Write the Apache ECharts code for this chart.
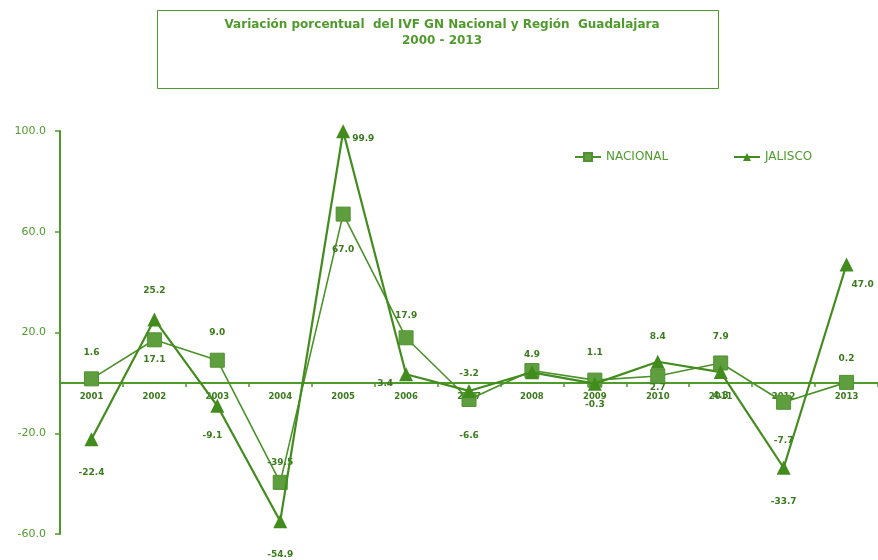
<!DOCTYPE html>
<html>
<head>
<meta charset="utf-8">
<script src="https://cdn.jsdelivr.net/npm/echarts@6/dist/echarts.min.js"></script>
<style>
  html, body { margin: 0; padding: 0; background: #ffffff; }
  #chart { width: 878px; height: 560px; }
</style>
</head>
<body>
<div id="chart"></div>
<script>
// Annual percentage change, 2001-2013
const years = ['2001', '2002', '2003', '2004', '2005', '2006', '2007', '2008', '2009', '2010', '2011', '2012', '2013'];
const nacional = [1.6, 17.1, 9.0, -39.5, 67.0, 17.9, -6.6, 4.9, 1.1, 2.7, 7.9, -7.7, 0.2];
const jalisco = [-22.4, 25.2, -9.1, -54.9, 99.9, 3.4, -3.2, 4.2, -0.3, 8.4, 4.3, -33.7, 47.0];
const yTicks = [-60, -20, 20, 60, 100];

// Where each value label sits relative to its marker
const nacionalLabelPos = ['top', 'bottom', 'top', 'top', 'bottom', 'top', 'bottom', 'top', 'top', 'bottom', 'top', 'bottom', 'top'];
const nacionalLabelDist = [14, 8, 16, 8, 24, 10, 24, 4, 15, 0, 14, 26, 12];
const jaliscoLabelPos = ['bottom', 'top', 'bottom', 'bottom', 'right', 'left', 'top', null, 'bottom', 'top', 'bottom', 'bottom', 'right'];
const jaliscoLabelDist = [22, 17, 18, 22, 2, 2, 6, 0, 10, 14, 12, 22, 2];

const green = '#4f9a2c';
const dark = '#3b7a1e';
const font = 'Liberation Sans, Arial, sans-serif';
const wide = 'DejaVu Sans, Verdana, sans-serif';

function buildPoints(values, pos, dist, extra) {
  return values.map((v, i) => {
    const p = { value: v };
    if (pos[i] === null) {
      p.label = { show: false };
    } else {
      p.label = Object.assign({ position: pos[i], distance: dist[i] }, extra && extra[i] ? extra[i] : {});
    }
    return p;
  });
}

const jaliscoExtra = [];
jaliscoExtra[2] = { offset: [-5, 0] };
jaliscoExtra[4] = { offset: [0, 7] };
jaliscoExtra[5] = { offset: [-4, 9] };
jaliscoExtra[12] = { offset: [-4, 20] };

const chart = echarts.init(document.getElementById('chart'), null, { renderer: 'canvas' });

chart.setOption({
  backgroundColor: '#ffffff',
  animation: false,
  textStyle: { fontFamily: font },
  title: {
    text: 'Variación porcentual  del IVF GN Nacional y Región  Guadalajara\n2000 - 2013',
    left: 437,
    top: 12,
    textAlign: 'center',
    textStyle: { fontSize: 12, fontWeight: 'bold', color: green, lineHeight: 16, fontFamily: wide }
  },
  graphic: [{
    type: 'rect',
    shape: { x: 157.5, y: 10.5, width: 561, height: 78 },
    style: { fill: 'none', stroke: green, lineWidth: 1 },
    z: -1
  }],
  legend: [{
    data: ['NACIONAL'],
    left: 569,
    top: 146,
    itemWidth: 26,
    itemHeight: 10,
    textStyle: { fontSize: 12, color: green, fontFamily: wide }
  }, {
    data: ['JALISCO'],
    left: 728,
    top: 146,
    itemWidth: 26,
    itemHeight: 10,
    textStyle: { fontSize: 12, color: green, fontFamily: wide }
  }],
  grid: { left: 60, right: 0, top: 131, bottom: 26, containLabel: false },
  xAxis: {
    type: 'category',
    data: years,
    boundaryGap: true,
    // the category axis runs along the zero line
    axisLine: { onZero: false, lineStyle: { color: green, width: 2 } },
    offset: -151,
    axisTick: { show: true, length: 4, inside: false, lineStyle: { color: green, width: 1.5 } },
    axisLabel: { color: dark, fontSize: 8.5, fontWeight: 'bold', margin: 9, fontFamily: wide },
    splitLine: { show: false }
  },
  yAxis: {
    type: 'value',
    min: -60,
    max: 100,
    interval: 20,
    axisLine: { show: true, lineStyle: { color: green, width: 2 } },
    axisTick: { show: true, length: 5, customValues: yTicks, lineStyle: { color: green, width: 1.5 } },
    axisLabel: {
      color: green, fontSize: 11, margin: 14, fontFamily: wide,
      customValues: yTicks,
      formatter: v => v.toFixed(1)
    },
    splitLine: { show: false }
  },
  series: [{
    name: 'NACIONAL',
    type: 'line',
    data: buildPoints(nacional, nacionalLabelPos, nacionalLabelDist),
    symbol: 'rect',
    symbolSize: 14,
    lineStyle: { color: '#4a9228', width: 1.6 },
    itemStyle: { color: '#5e9e3e', borderColor: '#4f9030', borderWidth: 1 },
    label: {
      show: true, fontSize: 9, fontWeight: 'bold', color: dark, fontFamily: wide,
      formatter: p => p.value.toFixed(1)
    },
    z: 3
  }, {
    name: 'JALISCO',
    type: 'line',
    data: buildPoints(jalisco, jaliscoLabelPos, jaliscoLabelDist, jaliscoExtra),
    symbol: 'triangle',
    symbolSize: 14,
    lineStyle: { color: '#428c1e', width: 2.2 },
    itemStyle: { color: '#428c1e' },
    label: {
      show: true, fontSize: 9, fontWeight: 'bold', color: dark, fontFamily: wide,
      formatter: p => p.value.toFixed(1)
    },
    z: 4
  }]
});
</script>
</body>
</html>
